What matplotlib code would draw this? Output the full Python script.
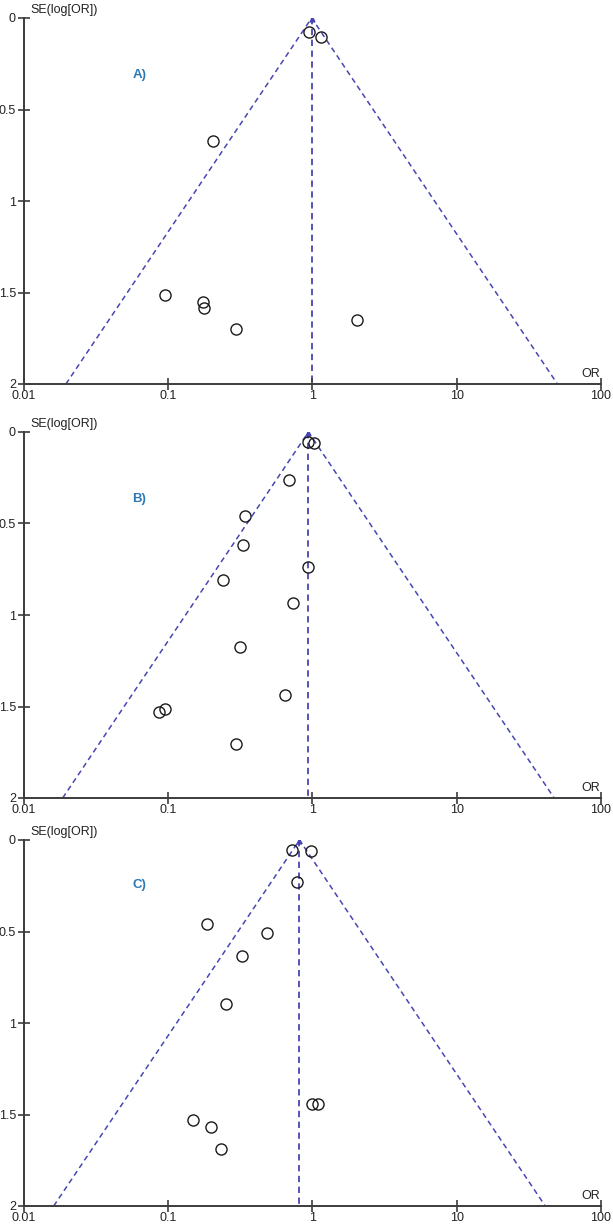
import numpy as np
from matplotlib import pyplot as plt

plt.rcParams['font.family'] = ['Liberation Sans', 'DejaVu Sans']

# Panel A
or_a = [0.95, 1.14, 0.204, 0.095, 0.175, 0.177, 0.294, 2.04]
se_a = [0.078, 0.102, 0.674, 1.513, 1.553, 1.582, 1.702, 1.651]
pooled_a = 0.99

# Panel B
or_b = [0.927, 1.03, 0.69, 0.343, 0.332, 0.933, 0.241, 0.74, 0.315, 0.649, 0.087, 0.095, 0.294]
se_b = [0.055, 0.058, 0.264, 0.459, 0.617, 0.736, 0.811, 0.934, 1.175, 1.435, 1.528, 1.515, 1.703]
pooled_b = 0.94

# Panel C
or_c = [0.722, 0.982, 0.788, 0.1875, 0.486, 0.326, 0.2535, 1.0, 1.09, 0.149, 0.1986, 0.2337]
se_c = [0.055, 0.058, 0.231, 0.459, 0.510, 0.634, 0.896, 1.443, 1.443, 1.528, 1.568, 1.687]
pooled_c = 0.815

panel_labels = ['A)', 'B)', 'C)']
label_se = [0.31, 0.368, 0.246]
xticks = [0.01, 0.1, 1, 10, 100]
xticklabels = ['0.01', '0.1', '1', '10', '100']
yticks = [0, 0.5, 1, 1.5, 2]
yticklabels = ['0', '0.5', '1', '1.5', '2']

W, H = 613, 1226
tops = [18, 432, 840]
bots = [384, 798, 1206]
left_px, right_px = 23.6, 601

funnel_col = '#4646b4'
axis_col = '#3c3c3c'

fig = plt.figure(figsize=(W / 100, H / 100), dpi=100)

panels = [(or_a, se_a, pooled_a), (or_b, se_b, pooled_b), (or_c, se_c, pooled_c)]
for i, (ors, ses, pooled) in enumerate(panels):
    ax = fig.add_axes([left_px / W, 1 - bots[i] / H,
                       (right_px - left_px) / W, (bots[i] - tops[i]) / H])
    ax.set_xscale('log')
    ax.set_xlim(0.01, 100)
    ax.set_ylim(2, 0)
    ax.patch.set_alpha(0)

    # funnel (95% pseudo confidence limits) and pooled estimate
    se_max = 2.0
    lo = pooled * np.exp(-1.96 * se_max)
    hi = pooled * np.exp(1.96 * se_max)
    ax.plot([lo, pooled, hi], [se_max, 0, se_max], color=funnel_col,
            lw=1.1, ls=(0, (3.5, 2.5)), zorder=1)
    ax.plot([pooled, pooled], [0, se_max], color=funnel_col,
            lw=1.3, ls=(0, (3.5, 2.5)), zorder=1)
    ax.plot([pooled], [0.005], marker='^', ms=3.5, color=funnel_col, zorder=2)

    ax.plot(ors, ses, ls='none', marker='o', ms=8, mfc='none',
            mec='#1a1a1a', mew=1.0, zorder=3)

    for s in ['top', 'right']:
        ax.spines[s].set_visible(False)
    for s in ['left', 'bottom']:
        ax.spines[s].set_color(axis_col)
        ax.spines[s].set_linewidth(1.4)

    ax.set_xticks(xticks)
    ax.set_xticklabels(xticklabels)
    ax.minorticks_off()
    ax.set_yticks(yticks)
    ax.set_yticklabels(yticklabels)
    ax.tick_params(direction='inout', length=9, width=1.2, color=axis_col,
                   labelsize=9, labelcolor='#222222', pad=0)
    ax.tick_params(axis='y', pad=1)

    ax.text(0.011, -0.01, 'SE(log[OR])', transform=ax.get_yaxis_transform(),
            fontsize=9, color='#222222', va='bottom', ha='left')
    ax.text(0.998, 1.98, 'OR', transform=ax.get_yaxis_transform(),
            fontsize=9, color='#222222', va='bottom', ha='right')
    ax.text(0.0635, label_se[i], panel_labels[i], fontsize=9.5, fontweight='bold',
            color='#2c78b4', ha='center', va='center')

fig.savefig('out.png', dpi=100)
